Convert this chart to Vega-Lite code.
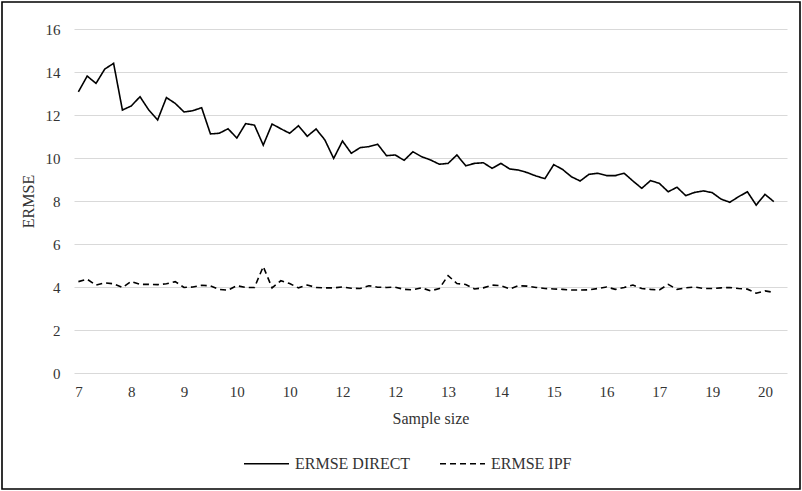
{
  "$schema": "https://vega.github.io/schema/vega-lite/v6.json",
  "width": 798,
  "height": 487,
  "padding": 2,
  "autosize": {"type": "none"},
  "background": "white",
  "config": {
    "view": {"stroke": "black", "strokeWidth": 1.6},
    "font": "'Liberation Serif', 'Times New Roman', serif",
    "axis": {"labelFont": "'Liberation Serif', 'Times New Roman', serif", "titleFont": "'Liberation Serif', 'Times New Roman', serif"},
    "legend": {"labelFont": "'Liberation Serif', 'Times New Roman', serif", "titleFont": "'Liberation Serif', 'Times New Roman', serif"}
  },
  "data": {
    "values": [
      {"i":0,"ERMSE DIRECT":13.08,"ERMSE IPF":4.25},
      {"i":1,"ERMSE DIRECT":13.81,"ERMSE IPF":4.36},
      {"i":2,"ERMSE DIRECT":13.47,"ERMSE IPF":4.09},
      {"i":3,"ERMSE DIRECT":14.14,"ERMSE IPF":4.19},
      {"i":4,"ERMSE DIRECT":14.40,"ERMSE IPF":4.15},
      {"i":5,"ERMSE DIRECT":12.23,"ERMSE IPF":3.98},
      {"i":6,"ERMSE DIRECT":12.42,"ERMSE IPF":4.26},
      {"i":7,"ERMSE DIRECT":12.85,"ERMSE IPF":4.12},
      {"i":8,"ERMSE DIRECT":12.23,"ERMSE IPF":4.12},
      {"i":9,"ERMSE DIRECT":11.77,"ERMSE IPF":4.11},
      {"i":10,"ERMSE DIRECT":12.81,"ERMSE IPF":4.15},
      {"i":11,"ERMSE DIRECT":12.54,"ERMSE IPF":4.25},
      {"i":12,"ERMSE DIRECT":12.14,"ERMSE IPF":3.98},
      {"i":13,"ERMSE DIRECT":12.20,"ERMSE IPF":4.00},
      {"i":14,"ERMSE DIRECT":12.34,"ERMSE IPF":4.08},
      {"i":15,"ERMSE DIRECT":11.12,"ERMSE IPF":4.05},
      {"i":16,"ERMSE DIRECT":11.15,"ERMSE IPF":3.89},
      {"i":17,"ERMSE DIRECT":11.36,"ERMSE IPF":3.85},
      {"i":18,"ERMSE DIRECT":10.93,"ERMSE IPF":4.06},
      {"i":19,"ERMSE DIRECT":11.60,"ERMSE IPF":3.98},
      {"i":20,"ERMSE DIRECT":11.53,"ERMSE IPF":3.98},
      {"i":21,"ERMSE DIRECT":10.60,"ERMSE IPF":4.95},
      {"i":22,"ERMSE DIRECT":11.58,"ERMSE IPF":3.96},
      {"i":23,"ERMSE DIRECT":11.36,"ERMSE IPF":4.29},
      {"i":24,"ERMSE DIRECT":11.15,"ERMSE IPF":4.16},
      {"i":25,"ERMSE DIRECT":11.50,"ERMSE IPF":3.96},
      {"i":26,"ERMSE DIRECT":11.01,"ERMSE IPF":4.09},
      {"i":27,"ERMSE DIRECT":11.35,"ERMSE IPF":3.98},
      {"i":28,"ERMSE DIRECT":10.84,"ERMSE IPF":3.96},
      {"i":29,"ERMSE DIRECT":9.98,"ERMSE IPF":3.96},
      {"i":30,"ERMSE DIRECT":10.79,"ERMSE IPF":4.00},
      {"i":31,"ERMSE DIRECT":10.22,"ERMSE IPF":3.94},
      {"i":32,"ERMSE DIRECT":10.48,"ERMSE IPF":3.93},
      {"i":33,"ERMSE DIRECT":10.53,"ERMSE IPF":4.06},
      {"i":34,"ERMSE DIRECT":10.64,"ERMSE IPF":3.99},
      {"i":35,"ERMSE DIRECT":10.11,"ERMSE IPF":3.98},
      {"i":36,"ERMSE DIRECT":10.14,"ERMSE IPF":3.99},
      {"i":37,"ERMSE DIRECT":9.89,"ERMSE IPF":3.89},
      {"i":38,"ERMSE DIRECT":10.29,"ERMSE IPF":3.87},
      {"i":39,"ERMSE DIRECT":10.06,"ERMSE IPF":3.96},
      {"i":40,"ERMSE DIRECT":9.91,"ERMSE IPF":3.82},
      {"i":41,"ERMSE DIRECT":9.71,"ERMSE IPF":3.93},
      {"i":42,"ERMSE DIRECT":9.75,"ERMSE IPF":4.53},
      {"i":43,"ERMSE DIRECT":10.14,"ERMSE IPF":4.16},
      {"i":44,"ERMSE DIRECT":9.64,"ERMSE IPF":4.12},
      {"i":45,"ERMSE DIRECT":9.75,"ERMSE IPF":3.91},
      {"i":46,"ERMSE DIRECT":9.78,"ERMSE IPF":3.96},
      {"i":47,"ERMSE DIRECT":9.52,"ERMSE IPF":4.09},
      {"i":48,"ERMSE DIRECT":9.75,"ERMSE IPF":4.06},
      {"i":49,"ERMSE DIRECT":9.49,"ERMSE IPF":3.91},
      {"i":50,"ERMSE DIRECT":9.44,"ERMSE IPF":4.06},
      {"i":51,"ERMSE DIRECT":9.32,"ERMSE IPF":4.04},
      {"i":52,"ERMSE DIRECT":9.16,"ERMSE IPF":3.98},
      {"i":53,"ERMSE DIRECT":9.04,"ERMSE IPF":3.93},
      {"i":54,"ERMSE DIRECT":9.69,"ERMSE IPF":3.91},
      {"i":55,"ERMSE DIRECT":9.47,"ERMSE IPF":3.89},
      {"i":56,"ERMSE DIRECT":9.13,"ERMSE IPF":3.86},
      {"i":57,"ERMSE DIRECT":8.93,"ERMSE IPF":3.86},
      {"i":58,"ERMSE DIRECT":9.24,"ERMSE IPF":3.87},
      {"i":59,"ERMSE DIRECT":9.29,"ERMSE IPF":3.93},
      {"i":60,"ERMSE DIRECT":9.18,"ERMSE IPF":4.00},
      {"i":61,"ERMSE DIRECT":9.18,"ERMSE IPF":3.89},
      {"i":62,"ERMSE DIRECT":9.29,"ERMSE IPF":3.98},
      {"i":63,"ERMSE DIRECT":8.93,"ERMSE IPF":4.09},
      {"i":64,"ERMSE DIRECT":8.59,"ERMSE IPF":3.93},
      {"i":65,"ERMSE DIRECT":8.95,"ERMSE IPF":3.89},
      {"i":66,"ERMSE DIRECT":8.82,"ERMSE IPF":3.86},
      {"i":67,"ERMSE DIRECT":8.43,"ERMSE IPF":4.12},
      {"i":68,"ERMSE DIRECT":8.64,"ERMSE IPF":3.89},
      {"i":69,"ERMSE DIRECT":8.25,"ERMSE IPF":3.96},
      {"i":70,"ERMSE DIRECT":8.40,"ERMSE IPF":4.00},
      {"i":71,"ERMSE DIRECT":8.47,"ERMSE IPF":3.93},
      {"i":72,"ERMSE DIRECT":8.39,"ERMSE IPF":3.93},
      {"i":73,"ERMSE DIRECT":8.09,"ERMSE IPF":3.96},
      {"i":74,"ERMSE DIRECT":7.94,"ERMSE IPF":3.98},
      {"i":75,"ERMSE DIRECT":8.20,"ERMSE IPF":3.93},
      {"i":76,"ERMSE DIRECT":8.43,"ERMSE IPF":3.90},
      {"i":77,"ERMSE DIRECT":7.81,"ERMSE IPF":3.71},
      {"i":78,"ERMSE DIRECT":8.31,"ERMSE IPF":3.82},
      {"i":79,"ERMSE DIRECT":7.97,"ERMSE IPF":3.75}
    ]
  },
  "transform": [
    {"fold": ["ERMSE DIRECT", "ERMSE IPF"], "as": ["series", "value"]}
  ],
  "mark": {"type": "line", "strokeWidth": 1.6, "color": "black"},
  "encoding": {
    "x": {
      "field": "i",
      "type": "quantitative",
      "scale": {"domain": [-0.5, 80.5], "range": [72, 785], "nice": false, "zero": false},
      "axis": {
        "title": "Sample size",
        "values": [0, 6, 12, 18, 24, 30, 36, 42, 48, 54, 60, 66, 72, 78],
        "labelExpr": "['7','8','9','10','10','12','12','13','14','15','16','17','19','20'][datum.value / 6]",
        "grid": false,
        "domain": false,
        "ticks": false,
        "tickSize": 0,
        "offset": -105,
        "labelPadding": 0,
        "labelFontSize": 15,
        "labelColor": "#333333",
        "titleFontSize": 16,
        "titleFontWeight": "normal",
        "titleColor": "#333333",
        "titlePadding": 11
      }
    },
    "y": {
      "field": "value",
      "type": "quantitative",
      "scale": {"domain": [0, 16], "range": [371, 27], "nice": false},
      "axis": {
        "title": "ERMSE",
        "values": [0, 2, 4, 6, 8, 10, 12, 14, 16],
        "grid": true,
        "gridColor": "#d9d9d9",
        "gridWidth": 1,
        "domain": false,
        "ticks": false,
        "tickSize": 0,
        "offset": -58,
        "labelPadding": 0,
        "labelFontSize": 15,
        "labelColor": "#333333",
        "titleFontSize": 16,
        "titleFontWeight": "normal",
        "titleColor": "#333333",
        "titlePadding": 9
      }
    },
    "strokeDash": {
      "field": "series",
      "type": "nominal",
      "scale": {"domain": ["ERMSE DIRECT", "ERMSE IPF"], "range": [[1, 0], [6, 4]]},
      "legend": {
        "title": null,
        "orient": "none",
        "direction": "horizontal",
        "legendX": 241,
        "legendY": 438,
        "symbolType": "stroke",
        "symbolSize": 2025,
        "symbolStrokeWidth": 1.6,
        "symbolStrokeColor": "black",
        "labelFontSize": 16,
        "labelColor": "#333333",
        "labelOffset": 5,
        "columnPadding": 25
      }
    }
  }
}
